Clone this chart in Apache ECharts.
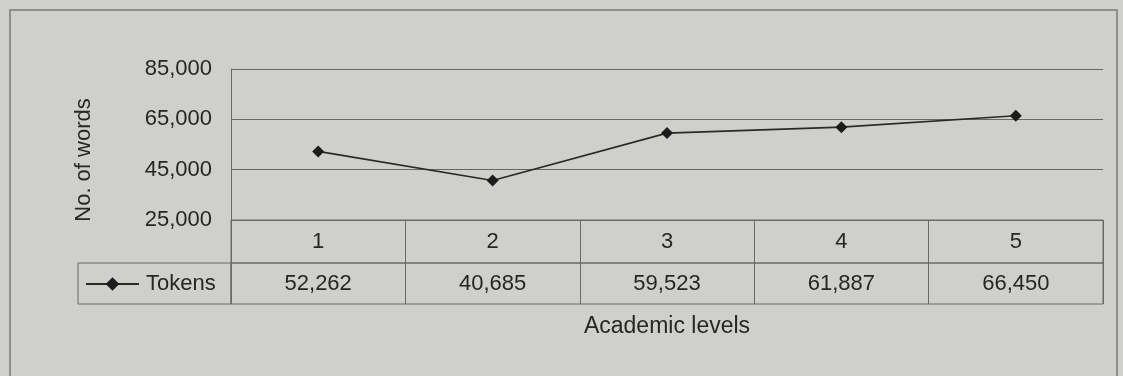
<!DOCTYPE html>
<html>
<head>
<meta charset="utf-8">
<script src="https://cdn.jsdelivr.net/npm/echarts@6/dist/echarts.min.js"></script>
<style>
  html, body { margin: 0; padding: 0; background: #cfcfcc; }
  #chart { width: 1123px; height: 376px; }
</style>
</head>
<body>
<div id="chart"></div>
<script>
// Academic levels and the token counts at each level
const levels = ['1', '2', '3', '4', '5'];
const tokens = [52262, 40685, 59523, 61887, 66450];
const seriesName = 'Tokens';
const yTicks = { min: 25000, max: 85000, step: 20000 };

const INK = '#262626';
const RULE = '#686868';
const FONT = '"Liberation Sans", Arial, sans-serif';

const fmt = v => v.toLocaleString('en-US');

const chart = echarts.init(document.getElementById('chart'));

// Plot area, the level row, the value row and the legend cell share one left/right edge
const plotLeft = 231, plotWidth = 872;

const cellLabel = {
  show: true, position: 'inside',
  fontFamily: FONT, fontSize: 22, color: INK, opacity: 1
};

chart.setOption({
  backgroundColor: '#cfcfcc',
  animation: false,
  textStyle: { fontFamily: FONT, color: INK },
  graphic: [
    {
      type: 'rect',
      shape: { x: 10, y: 10, width: 1107, height: 400 },
      style: { fill: 'none', stroke: '#7a7a7a', lineWidth: 1.5 },
      silent: true
    },
    {
      type: 'text',
      x: 84, y: 160,
      rotation: Math.PI / 2,
      style: {
        text: 'No. of words',
        fontFamily: FONT, fontSize: 22, fill: INK,
        align: 'center', verticalAlign: 'middle'
      }
    }
  ],
  legend: {
    data: [seriesName],
    left: 85, top: 273, padding: 0,
    itemWidth: 53, itemHeight: 17, itemGap: 0,
    textStyle: { fontFamily: FONT, fontSize: 22, color: INK, padding: [0, 0, 0, 2] }
  },
  grid: [
    { left: plotLeft, top: 69, width: plotWidth, height: 151, show: false },
    { left: plotLeft, top: 220, width: plotWidth, height: 43, show: true, borderColor: RULE, borderWidth: 1, backgroundColor: 'transparent' },
    { left: plotLeft, top: 263, width: plotWidth, height: 41, show: true, borderColor: RULE, borderWidth: 1, backgroundColor: 'transparent' },
    { left: 78, top: 263, width: 153, height: 41, show: true, borderColor: RULE, borderWidth: 1, backgroundColor: 'transparent' }
  ],
  xAxis: [
    { gridIndex: 0, type: 'category', data: levels, boundaryGap: true,
      axisLine: { show: false }, axisTick: { show: false }, axisLabel: { show: false } },
    { gridIndex: 1, type: 'category', data: levels, boundaryGap: true,
      axisLine: { show: false }, axisTick: { show: false }, axisLabel: { show: false },
      splitLine: { show: true, lineStyle: { color: RULE, width: 1 } } },
    { gridIndex: 2, type: 'category', data: levels, boundaryGap: true,
      axisLine: { show: false }, axisTick: { show: false }, axisLabel: { show: false },
      splitLine: { show: true, lineStyle: { color: RULE, width: 1 } },
      name: 'Academic levels', nameLocation: 'middle', nameGap: 11,
      nameTextStyle: { fontFamily: FONT, fontSize: 23, color: INK, verticalAlign: 'top' } },
    { gridIndex: 3, type: 'value', show: false }
  ],
  yAxis: [
    { gridIndex: 0, type: 'value', min: yTicks.min, max: yTicks.max, interval: yTicks.step,
      axisLine: { show: true, lineStyle: { color: RULE, width: 1 } },
      axisTick: { show: false },
      axisLabel: { formatter: v => fmt(v), fontFamily: FONT, fontSize: 22, color: INK, margin: 19 },
      splitLine: { show: true, lineStyle: { color: RULE, width: 1 } } },
    { gridIndex: 1, type: 'value', min: 0, max: 1, show: false },
    { gridIndex: 2, type: 'value', min: 0, max: 1, show: false },
    { gridIndex: 3, type: 'value', show: false }
  ],
  series: [
    {
      name: seriesName,
      type: 'line',
      xAxisIndex: 0, yAxisIndex: 0,
      data: tokens,
      symbol: 'diamond',
      symbolSize: 12,
      itemStyle: { color: '#1c1c1c' },
      lineStyle: { color: '#2a2a2a', width: 1.6 }
    },
    {
      // level numbers in the upper table row
      type: 'scatter',
      xAxisIndex: 1, yAxisIndex: 1,
      symbolSize: 0, silent: true,
      itemStyle: { opacity: 1 },
      data: levels.map(l => [l, 0.5]),
      label: Object.assign({ formatter: p => p.value[0] }, cellLabel)
    },
    {
      // token counts in the lower table row
      type: 'scatter',
      xAxisIndex: 2, yAxisIndex: 2,
      symbolSize: 0, silent: true,
      itemStyle: { opacity: 1 },
      data: levels.map((l, i) => [l, 0.5, tokens[i]]),
      label: Object.assign({ formatter: p => fmt(p.value[2]) }, cellLabel)
    }
  ]
});
</script>
</body>
</html>
